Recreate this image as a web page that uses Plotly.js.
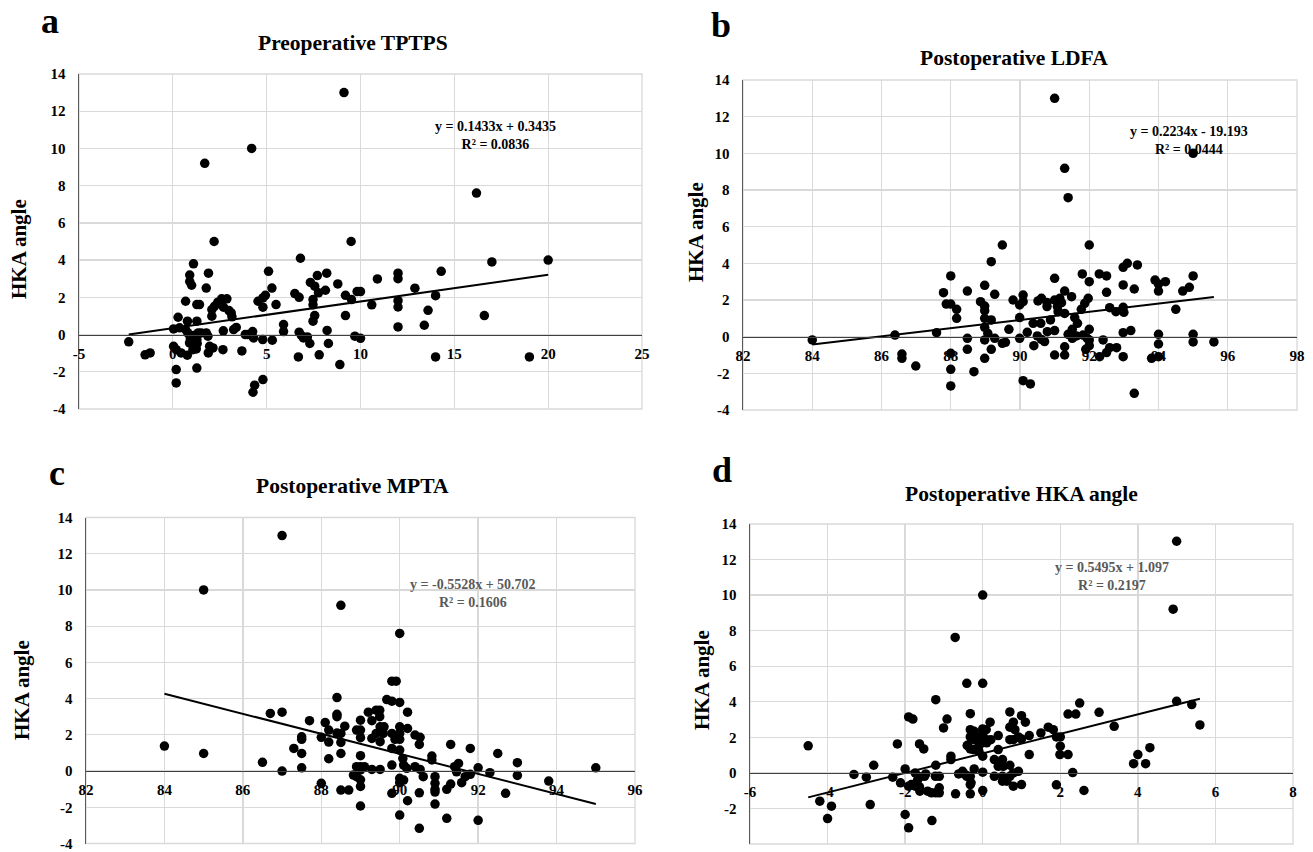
<!DOCTYPE html>
<html>
<head>
<meta charset="utf-8">
<script src="https://cdn.plot.ly/plotly-3.0.1.min.js"></script>
<style>html,body{margin:0;padding:0;background:#fff;}#chart{width:1313px;height:852px;}</style>
</head>
<body>
<div id="chart"></div>
<script>
// ---------------- DATA ----------------
const panelLetters = ["a", "b", "c", "d"];
const panelTitles = ["Preoperative TPTPS", "Postoperative LDFA", "Postoperative MPTA", "Postoperative HKA angle"];
const yAxisTitle = "HKA angle";
const yTicks = [-4, -2, 0, 2, 4, 6, 8, 10, 12, 14];
const xTicksA = [-5, 0, 5, 10, 15, 20, 25];
const xTicksB = [82, 84, 86, 88, 90, 92, 94, 96, 98];
const xTicksC = [82, 84, 86, 88, 90, 92, 94, 96];
const xTicksD = [-6, -4, -2, 0, 2, 4, 6, 8];

// Panel a: Preoperative TPTPS vs HKA angle
const aX = [-2.35,-1.48,-1.21,0.04,0.36,0.28,0.18,0.18,0.04,0.18,0.44,0.77,0.68,0.78,0.68,0.80,0.93,0.89,1.10,1.28,1.35,1.51,1.78,1.87,1.96,2.14,1.89,1.07,1.25,1.30,0.90,0.90,1.00,1.10,1.28,1.42,1.28,1.28,1.70,1.78,1.90,2.20,2.08,2.08,2.22,2.40,2.60,2.88,2.70,2.99,3.11,3.15,2.69,3.24,3.38,2.67,3.68,3.86,4.00,4.25,4.30,4.20,4.27,4.36,4.80,4.54,4.80,4.93,4.80,4.79,5.30,5.10,5.28,5.50,5.90,5.90,6.50,6.73,6.80,6.73,6.85,6.96,7.17,7.30,6.69,7.33,7.56,7.76,7.70,7.47,7.47,7.56,7.47,7.80,8.13,8.20,8.22,8.29,8.79,8.90,9.12,9.20,9.20,9.50,9.52,9.70,9.82,10.00,10.00,10.60,10.90,12.00,12.00,12.00,12.00,12.00,12.90,13.40,13.60,14.00,14.00,14.30,16.18,16.60,17.00,19.00,20.00];
const aY = [-0.39,-1.09,-0.99,0.30,0.36,0.93,-1.88,-2.60,-0.63,-0.81,-0.99,-1.11,1.79,0.72,0.27,0.09,-0.18,-0.45,-0.05,-0.27,0.09,0.09,0.09,-0.09,-0.63,-0.72,-0.99,-0.81,-0.77,-0.48,3.20,2.85,2.65,3.80,1.61,1.61,0.72,-1.80,9.20,2.50,3.30,5.00,1.34,0.99,1.52,1.74,1.92,1.92,1.47,1.29,1.16,0.95,0.20,0.27,0.38,-0.81,-0.88,0.00,0.00,0.16,-0.18,10.00,-3.10,-2.72,-2.42,1.79,1.97,2.11,1.47,-0.27,-0.30,3.40,2.50,1.61,0.54,0.16,2.20,2.00,4.10,0.13,-0.05,-0.18,-0.13,-0.48,-1.20,2.80,2.60,2.24,3.17,1.88,1.60,1.02,0.72,-1.09,2.38,3.30,0.22,-0.48,2.72,-1.61,13.00,2.11,1.02,5.00,1.88,-0.09,2.31,2.31,-0.20,1.60,2.99,3.30,3.00,1.82,1.48,0.41,2.49,0.50,1.30,2.09,-1.20,3.40,7.60,1.02,3.90,-1.20,4.00];

// Panel b: Postoperative LDFA vs HKA angle
const bX = [84.0,86.39,86.59,86.59,86.99,87.59,87.79,87.87,88.0,88.0,88.17,88.17,88.0,88.0,88.0,88.48,88.48,88.48,88.67,88.86,88.98,88.98,88.98,88.98,88.98,88.98,88.98,89.07,89.17,89.17,89.17,89.27,89.27,89.49,89.49,89.58,89.68,89.80,89.99,90.09,90.09,89.99,89.99,90.21,90.40,90.09,90.30,90.38,90.52,90.62,90.78,90.78,90.60,90.50,90.62,90.71,90.79,90.88,91.0,91.0,91.0,91.15,91.2,91.08,91.1,91.0,91.0,91.29,91.39,91.29,91.49,91.29,91.58,91.66,91.51,91.39,91.51,91.29,91.29,91.63,91.82,91.94,91.80,91.87,91.97,91.77,92.0,92.0,92.0,92.0,92.0,91.9,92.29,92.5,92.5,92.4,92.5,92.59,92.79,92.3,92.59,92.77,92.98,93.0,92.98,93.1,93.39,92.98,93.3,92.98,93.2,92.98,93.3,93.9,94.0,94.2,94.0,94.5,94.0,94.0,93.8,94.0,94.7,94.89,95.0,95.0,95.0,95.0,95.6];
const bY = [-0.18,0.09,-0.95,-1.18,-1.60,0.22,2.40,1.78,1.78,3.31,1.49,1.00,-0.91,-1.78,-2.69,2.49,-0.09,-0.69,-1.91,1.91,2.80,1.67,1.42,1.00,0.51,-0.18,-1.18,0.18,4.09,0.91,-0.69,2.31,-0.09,5.00,-0.36,-0.31,0.40,2.00,1.73,2.27,1.91,1.04,-0.09,0.24,-0.49,-2.40,-2.58,0.73,1.95,2.09,1.87,1.64,0.73,0.04,-0.15,-0.27,0.27,0.91,13.0,3.18,2.00,2.09,1.85,1.64,1.36,0.33,-1.0,9.18,7.58,2.49,2.18,1.27,1.04,0.73,0.40,0.13,-0.09,-0.55,-1.0,0.04,0.09,-0.09,3.42,1.82,2.09,1.49,5.0,3.0,0.40,-0.18,-0.49,-0.69,3.42,3.31,2.42,-0.18,-0.87,-0.6,-0.6,-1.09,1.58,1.36,1.60,1.33,3.78,4.0,3.91,2.82,2.60,0.22,0.33,-1.09,-3.09,3.09,2.87,3.0,2.49,1.49,0.13,-0.4,-1.18,-1.09,2.49,2.69,3.31,10.0,0.13,-0.29,-0.29];

// Panel c: Postoperative MPTA vs HKA angle
const cX = [84.0,85.0,85.0,86.5,86.7,87.0,87.0,87.0,87.3,87.5,87.5,87.5,87.5,87.7,88.0,88.0,88.1,88.19,88.19,88.19,88.4,88.4,88.4,88.4,88.5,88.5,88.5,88.5,88.5,88.6,88.7,88.9,89.0,89.0,89.0,89.0,89.0,88.9,89.0,88.82,88.9,89.0,89.1,89.0,89.0,89.2,89.4,89.49,89.49,89.29,89.29,89.5,89.6,89.58,89.5,89.4,89.29,89.5,89.67,89.8,89.8,89.91,90.0,90.0,89.8,89.88,90.0,90.0,90.0,90.2,90.0,89.8,90.2,89.8,90.39,90.52,90.5,90.08,90.1,90.18,90.0,90.0,90.1,89.8,90.2,90.0,90.39,90.52,90.6,90.5,90.5,90.82,90.82,90.9,90.9,90.9,90.9,90.9,91.2,91.2,91.3,91.3,91.4,91.45,91.5,91.58,91.67,91.8,91.8,92.0,92.0,92.3,92.5,92.7,93.0,93.0,93.8,95.0];
const cY = [1.38,10.0,0.97,0.48,3.18,13.0,3.25,0.0,1.25,1.89,1.75,0.97,0.18,2.78,1.86,-0.68,2.68,2.26,1.60,0.68,4.06,3.13,3.00,2.10,9.15,2.08,1.58,0.97,-1.05,2.48,-1.05,2.26,2.81,2.26,1.84,0.85,-1.93,0.24,0.24,-0.22,-0.31,0.06,0.24,-0.48,-0.85,3.25,3.36,3.36,3.00,2.78,1.80,2.44,2.44,2.08,1.62,2.08,0.09,0.09,3.95,3.86,4.96,4.96,3.79,7.6,2.08,1.75,2.44,2.08,1.75,2.35,1.16,1.25,3.25,0.33,1.99,1.86,1.47,0.70,0.33,0.15,-0.4,-0.64,-0.5,-1.23,-1.64,-2.43,0.24,0.09,-0.31,-1.2,-3.16,0.83,0.61,-0.31,-0.68,-1.01,-1.16,-1.82,-2.61,-1.01,-0.72,1.47,0.24,-0.04,0.42,-0.64,-0.31,-0.18,1.25,0.18,-2.72,-0.09,0.97,-1.23,0.46,-0.24,-0.55,0.18];

// Panel d: Postoperative HKA angle vs HKA angle
const dX = [-4.5,-4.2,-3.9,-4.0,-3.32,-3.0,-2.81,-2.9,-2.32,-2.2,-2.12,-2.0,-2.0,-1.91,-1.91,-1.8,-1.91,-1.84,-1.63,-1.52,-1.31,-1.21,-1.21,-1.22,-1.12,-1.12,-1.12,-1.21,-1.32,-1.42,-1.62,-1.63,-1.74,-1.68,-1.63,-1.5,-1.74,-1.47,-1.01,-0.92,-0.82,-0.82,-0.71,-0.70,-0.62,-0.52,-0.43,-0.41,-0.40,-0.32,-0.32,-0.22,-0.32,-0.22,-0.32,-0.12,-0.24,-0.28,-0.39,-0.24,-0.09,-0.10,-0.22,-0.32,-0.32,-0.32,-0.5,-0.41,-0.3,0.0,0.0,0.0,0.0,0.0,0.0,0.0,0.0,0.1,0.19,0.09,0.21,0.10,0.3,0.51,0.4,0.53,0.7,0.3,0.51,0.51,0.62,0.7,0.79,0.92,1.0,0.79,0.4,0.4,0.7,0.79,0.7,0.83,0.79,0.7,0.92,1.2,1.0,1.1,1.0,1.2,1.5,1.69,1.82,1.9,2.0,2.0,1.99,2.2,1.9,2.32,2.61,2.2,2.4,2.5,3.0,3.39,3.89,4.0,4.2,4.31,4.91,5.0,5.0,5.39,5.6];
const dY = [1.52,-1.59,-1.87,-2.57,-0.09,-0.24,0.43,-1.78,-0.24,1.63,-0.56,0.22,-2.34,-3.09,3.15,3.03,-0.75,-0.66,1.63,1.35,-2.68,4.12,0.43,-0.19,-0.19,-0.84,-1.12,-1.12,-1.12,-1.03,-1.03,-0.79,-0.75,-0.41,-0.22,-0.19,0.0,-0.06,2.53,3.03,0.94,0.75,7.62,-1.18,-0.06,0.09,-0.13,5.04,1.54,3.33,2.43,2.34,2.02,1.87,1.35,2.02,2.15,1.97,1.55,1.31,1.54,1.22,0.22,-0.19,-0.66,-1.18,0.0,-0.19,-0.56,10.0,5.04,2.47,2.15,1.72,0.94,0.04,-0.99,1.87,2.85,2.43,1.87,1.69,0.75,0.75,0.37,0.37,0.43,-0.19,-0.19,-0.47,-0.47,-0.19,0.0,0.09,-0.66,-0.75,2.1,1.31,3.43,2.85,2.57,2.43,1.87,1.87,2.02,2.1,1.91,2.85,3.22,1.03,2.25,2.57,2.43,2.02,2.02,1.5,1.03,1.03,-0.67,0.02,-0.99,3.31,3.31,3.93,3.41,2.62,0.52,1.03,0.52,1.42,9.21,13.03,4.03,3.84,2.7];

// Trendline equations (as printed in the chart)
const slopes = [0.1433, 0.2234, -0.5528, 0.5495];
const intercepts = [0.3435, -19.193, 50.702, 1.097];
const r2 = ["0.0836", "0.0444", "0.1606", "0.2197"];
const eqText = ["y = 0.1433x + 0.3435", "y = 0.2234x - 19.193", "y = -0.5528x + 50.702", "y = 0.5495x + 1.097"];

// Axis ranges
const xRanges = [[-5, 25], [82, 98], [82, 96], [-6, 8]];
const yRange = [-4, 14];

// ---------------- LAYOUT ----------------
const W = 1313, H = 852;
const px = v => v / W;
const py = v => 1 - v / H;
const boxes = [[79, 74, 642, 409], [743, 80, 1297, 410], [86, 517.5, 635, 843.5], [750, 524, 1293, 844]];
const eqPos = [[495, 135], [1189, 140], [473, 593], [1112, 576]];
const eqColor = ["#000000", "#000000", "#595959", "#595959"];
const titlePos = [[353, 43], [1014, 58], [352, 486], [1021, 494]];
const letterPos = [[50, 21], [721, 25], [57, 473], [722, 470]];
const ylabPos = [[19, 249], [696, 232], [22, 690], [702, 680]];

const serif = "Liberation Serif";
const xs = [aX, bX, cX, dX], ys = [aY, bY, cY, dY];
const xTicks = [xTicksA, xTicksB, xTicksC, xTicksD];
const boldLabels = arr => arr.map(v => "<b>" + String(v) + "</b>");

const traces = [];
const layout = {
  width: W, height: H, margin: {l: 0, r: 0, t: 0, b: 0},
  paper_bgcolor: "#fff", plot_bgcolor: "#fff", showlegend: false,
  font: {family: serif, color: "#000"}, annotations: [], shapes: []
};

for (let i = 0; i < 4; i++) {
  const sfx = i === 0 ? "" : String(i + 1);
  const b = boxes[i];
  const xd = [px(b[0]), px(b[2])];
  const yd = [py(b[3]), py(b[1])];
  const zeroPos = yd[0] + (0 - yRange[0]) / (yRange[1] - yRange[0]) * (yd[1] - yd[0]);
  layout.shapes.push({
    type: "rect", xref: "paper", yref: "paper", x0: xd[0], x1: xd[1], y0: yd[0], y1: yd[1],
    line: {color: "#d9d9d9", width: 1.3}, fillcolor: "rgba(0,0,0,0)", layer: "below"
  });
  layout["xaxis" + sfx] = {
    domain: xd, range: xRanges[i], tickmode: "array",
    tickvals: xTicks[i], ticktext: boldLabels(xTicks[i]),
    anchor: "free", position: zeroPos,
    showline: true, linecolor: "#404040", linewidth: 1.4,
    showgrid: true, gridcolor: "#d9d9d9", gridwidth: 1.3, zeroline: false,
    ticks: "", ticklabelstandoff: 5,
    tickfont: {family: serif, size: 15, color: "#000"},
    fixedrange: true
  };
  layout["yaxis" + sfx] = {
    domain: yd, range: yRange, tickmode: "array",
    tickvals: yTicks, ticktext: boldLabels(yTicks), anchor: "x" + sfx,
    showline: true, linecolor: "#595959", linewidth: 1.4,
    showgrid: true, gridcolor: "#d9d9d9", gridwidth: 1.3, zeroline: false,
    ticks: "", ticklabelstandoff: 9,
    tickfont: {family: serif, size: 15, color: "#000"},
    fixedrange: true
  };
  traces.push({
    type: "scatter", mode: "markers", x: xs[i], y: ys[i],
    xaxis: "x" + sfx, yaxis: "y" + sfx,
    marker: {color: "#000", size: 9.5}, hoverinfo: "x+y"
  });
  const xmin = Math.min(...xs[i]), xmax = Math.max(...xs[i]);
  traces.push({
    type: "scatter", mode: "lines", x: [xmin, xmax],
    y: [slopes[i] * xmin + intercepts[i], slopes[i] * xmax + intercepts[i]],
    xaxis: "x" + sfx, yaxis: "y" + sfx,
    line: {color: "#000", width: 2}, hoverinfo: "skip"
  });
  layout.annotations.push({
    xref: "paper", yref: "paper", x: px(eqPos[i][0]), y: py(eqPos[i][1]),
    text: "<b>" + eqText[i] + "</b><br><b>R² = " + r2[i] + "</b>",
    showarrow: false, xanchor: "center", yanchor: "middle",
    font: {family: serif, size: 14, color: eqColor[i]}
  });
  layout.annotations.push({
    xref: "paper", yref: "paper", x: px(titlePos[i][0]), y: py(titlePos[i][1]),
    text: "<b>" + panelTitles[i] + "</b>", showarrow: false,
    xanchor: "center", yanchor: "middle",
    font: {family: serif, size: 21.5, color: "#000"}
  });
  layout.annotations.push({
    xref: "paper", yref: "paper", x: px(letterPos[i][0]), y: py(letterPos[i][1]),
    text: "<b>" + panelLetters[i] + "</b>", showarrow: false,
    xanchor: "center", yanchor: "middle",
    font: {family: serif, size: 36, color: "#000"}
  });
  layout.annotations.push({
    xref: "paper", yref: "paper", x: px(ylabPos[i][0]), y: py(ylabPos[i][1]),
    text: "<b>" + yAxisTitle + "</b>", showarrow: false, textangle: -90,
    xanchor: "center", yanchor: "middle",
    font: {family: serif, size: 21, color: "#000"}
  });
}

Plotly.newPlot("chart", traces, layout, {displayModeBar: false, staticPlot: true});
</script>
</body>
</html>
